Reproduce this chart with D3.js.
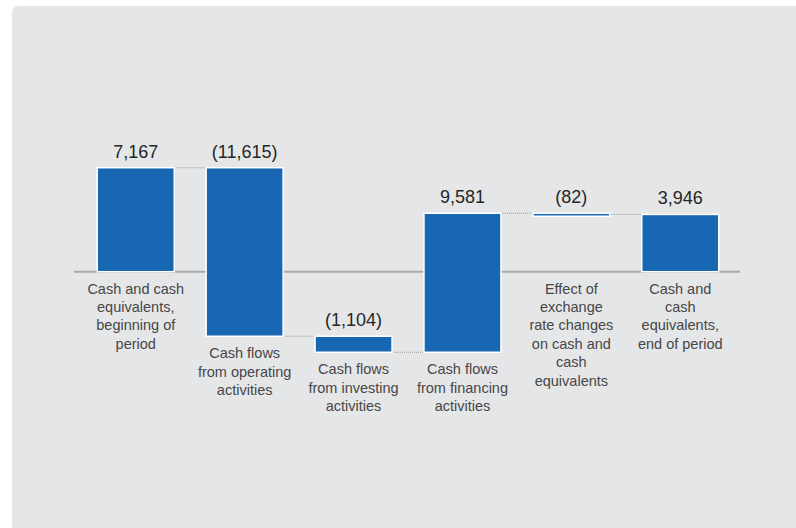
<!DOCTYPE html>
<html>
<head>
<meta charset="utf-8">
<script src="https://cdn.jsdelivr.net/npm/d3@7"></script>
<style>
    body { margin: 0; background: #ffffff; }
    #chart { width: 796px; height: 528px; }
    text { font-family: "Liberation Sans", Arial, Helvetica, sans-serif; }
</style>
</head>
<body>
<div id="chart"></div>
<script>

// chart data
const categories = ["start", "operating", "investing", "financing", "fx", "end"];
const values = [7167, -11615, -1104, 9581, -82, 3946];
const is_total = [true, false, false, false, false, true];
const labels = [
    ["Cash and cash", "equivalents,", "beginning of", "period"],
    ["Cash flows", "from operating", "activities"],
    ["Cash flows", "from investing", "activities"],
    ["Cash flows", "from financing", "activities"],
    ["Effect of", "exchange", "rate changes", "on cash and", "cash", "equivalents"],
    ["Cash and", "cash", "equivalents,", "end of period"]
];

class waterfall_chart{

    constructor(div_id, width, height){
        var self = this;

        self.width = width;
        self.height = height;

        self.svg = d3.select(`#${div_id}`).append("svg")
            .attr("width", width)
            .attr("height", height)

        //grey panel behind everything
        self.svg.append("rect")
            .attr("x", 12)
            .attr("y", 6)
            .attr("width", width)
            .attr("height", height)
            .attr("rx", 6)
            .attr("fill", "#e5e6e8")

        self.viz = self.svg.append("g");

        self.xScale = d3.scaleBand()
            .domain(categories)
            .range([42.8, 773.2])
            .paddingInner(0.293)
            .paddingOuter(0.5)

        self.yScale = d3.scaleLinear()
            .domain([-10000, 10000])
            .range([416.8, 126.6])
    }

    set_data(){
        var self = this;
        self.data = [];
        let running = 0;
        categories.forEach((c, i) => {
            let start, end;
            if(is_total[i]){
                start = 0;
                end = values[i];
            } else {
                start = running;
                end = running + values[i];
            }
            running = end;
            self.data.push({key: c, value: values[i], start: start, end: end, label: labels[i]});
        });
        self.draw();
    }

    draw(){
        var self = this;
        let fmt = d3.format(",");
        let y0 = self.yScale(0);

        //zero line
        self.viz.append("line")
            .attr("x1", 74)
            .attr("x2", 740)
            .attr("y1", y0)
            .attr("y2", y0)
            .attr("stroke", "#a9aaac")
            .attr("stroke-width", 2)

        //dotted connectors between bars
        let links = self.data.slice(0, -1).map((d, i) => ({from: d, to: self.data[i + 1], level: d.end}));
        self.viz.append("g")
            .selectAll("line")
            .data(links)
            .enter()
            .append("line")
                .attr("x1", d => self.xScale(d.from.key) + self.xScale.bandwidth())
                .attr("x2", d => self.xScale(d.to.key))
                .attr("y1", d => self.yScale(d.level))
                .attr("y2", d => self.yScale(d.level))
                .attr("stroke", "#9a9b9d")
                .attr("stroke-width", 1)
                .attr("stroke-dasharray", "1,1")

        //bars
        self.viz.append("g")
            .selectAll("rect")
            .data(self.data)
            .enter()
            .append("rect")
                .attr("x", d => self.xScale(d.key))
                .attr("y", d => self.yScale(Math.max(d.start, d.end)))
                .attr("width", self.xScale.bandwidth())
                .attr("height", d => Math.max(3, Math.abs(self.yScale(d.start) - self.yScale(d.end))))
                .attr("fill", "#1767b3")
                .attr("stroke", "#ffffff")
                .attr("stroke-width", 1.5)

        //value labels
        self.viz.append("g")
            .selectAll("text")
            .data(self.data)
            .enter()
            .append("text")
                .attr("x", d => self.xScale(d.key) + self.xScale.bandwidth() / 2)
                .attr("y", d => self.yScale(Math.max(d.start, d.end)) - 10)
                .attr("text-anchor", "middle")
                .attr("font-size", "18px")
                .attr("fill", "#262626")
                .text(d => d.value < 0 ? `(${fmt(-d.value)})` : fmt(d.value))

        //category labels below the bar (or below the zero line)
        let cat = self.viz.append("g")
            .selectAll("text")
            .data(self.data)
            .enter()
            .append("text")
                .attr("text-anchor", "middle")
                .attr("font-size", "14.5px")
                .attr("fill", "#474747")
                .attr("transform", d => {
                    let bottom = Math.max(y0, self.yScale(Math.min(d.start, d.end)));
                    return `translate(${self.xScale(d.key) + self.xScale.bandwidth() / 2}, ${bottom + 22})`;
                })

        cat.selectAll("tspan")
            .data(d => d.label)
            .enter()
            .append("tspan")
                .attr("x", 0)
                .attr("y", (d, i) => i * 18.4)
                .text(d => d)
    }
}

let chart = new waterfall_chart("chart", 796, 528);
chart.set_data();
</script>
</body>
</html>
